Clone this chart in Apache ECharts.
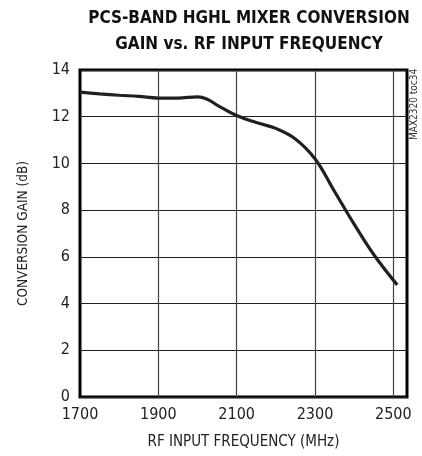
<!DOCTYPE html>
<html><head><meta charset="utf-8">
<script src="https://cdn.jsdelivr.net/npm/echarts@6/dist/echarts.min.js"></script>
<style>html,body{margin:0;padding:0;background:#fff}#c{width:422px;height:456px}</style>
</head><body><div id="c"></div>
<script>
const freqs = [1700, 1750, 1800, 1850, 1900, 1950, 2000, 2025, 2050, 2100, 2150, 2200, 2250, 2300, 2350, 2400, 2450, 2510];
const gain  = [13.05, 12.98, 12.92, 12.87, 12.8, 12.8, 12.85, 12.75, 12.5, 12.05, 11.75, 11.5, 11.05, 10.2, 8.8, 7.4, 6.1, 4.8];
const xGridTicks = [1900, 2100, 2300, 2500];
const xLabelTicks = [1700, 1900, 2100, 2300, 2500];
const titleLines = ['PCS-BAND HGHL MIXER CONVERSION', 'GAIN vs. RF INPUT FREQUENCY'];
const xName = 'RF INPUT FREQUENCY (MHz)';
const yName = 'CONVERSION GAIN (dB)';
const noteText = 'MAX2320 toc34';

const FONT = '"Liberation Sans Narrow","DejaVu Sans Condensed",sans-serif';
const chart = echarts.init(document.getElementById('c'));
chart.setOption({
  animation: false,
  title: {
    text: titleLines.join('\n'),
    left: 244, top: 1, textAlign: 'center',
    textStyle: {fontFamily: '"DejaVu Sans Condensed",sans-serif', fontWeight: 'bold', fontSize: 17, lineHeight: 26, color: '#111'}
  },
  grid: {left: 80, right: 15, top: 70, bottom: 59, show: true, borderColor: '#000', borderWidth: 3, backgroundColor: 'transparent'},
  xAxis: {
    type: 'value', min: 1700, max: 2535, interval: 100,
    name: xName, nameLocation: 'middle', nameGap: 38,
    nameTextStyle: {fontFamily: FONT, fontSize: 15, color: '#222'},
    axisLine: {show: false}, axisTick: {show: false}, splitLine: {show: false},
    axisLabel: {fontFamily: FONT, fontSize: 16, color: '#222', margin: 10,
      formatter: v => xLabelTicks.includes(v) ? String(v) : ''}
  },
  yAxis: {
    type: 'value', min: 0, max: 14, interval: 2,
    name: yName, nameLocation: 'middle', nameGap: 50,
    nameTextStyle: {fontFamily: FONT, fontSize: 13.5, color: '#222'},
    axisLine: {show: false}, axisTick: {show: false},
    splitLine: {show: true, lineStyle: {color: '#222', width: 1.2}},
    axisLabel: {fontFamily: FONT, fontSize: 16, color: '#222', margin: 10}
  },
  series: [{
    type: 'line', data: freqs.map((f, i) => [f, gain[i]]),
    smooth: 0.4, showSymbol: false,
    lineStyle: {color: '#231f20', width: 3.2},
    markLine: {
      silent: true, symbol: 'none', label: {show: false},
      lineStyle: {color: '#444', width: 1.2, type: 'solid'},
      data: xGridTicks.map(x => ({xAxis: x}))
    },
    z: 5
  }],
  graphic: [{
    type: 'text', x: 409, y: 140, rotation: Math.PI / 2,
    style: {text: noteText, fontFamily: FONT, fontSize: 10, fill: '#333', textAlign: 'left', textVerticalAlign: 'top'}
  }]
});
</script></body></html>
